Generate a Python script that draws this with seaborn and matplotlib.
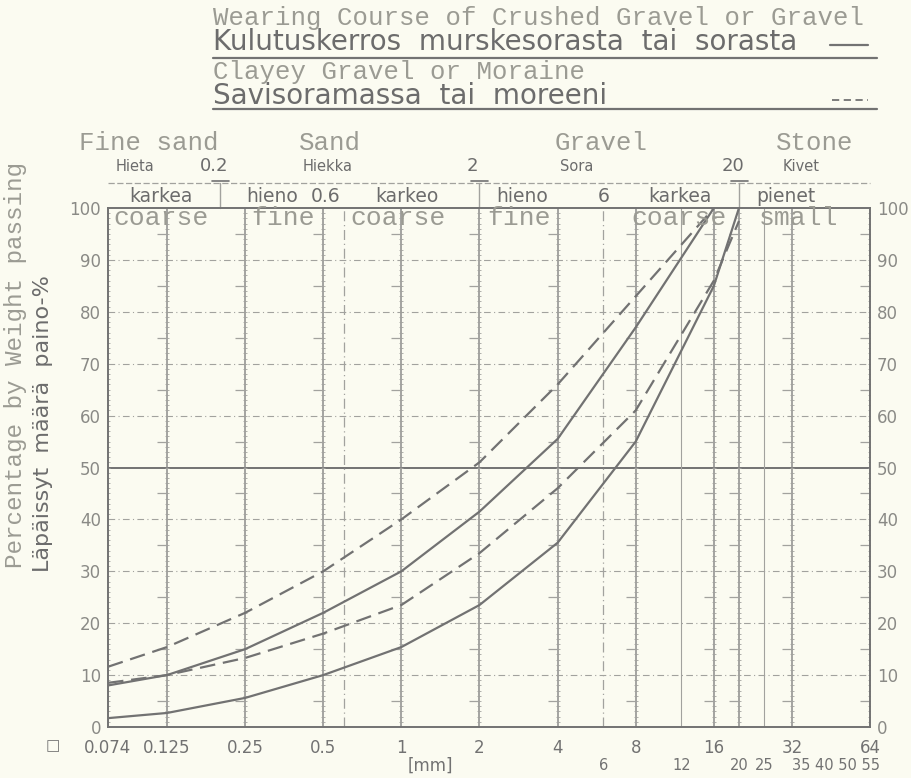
import matplotlib
matplotlib.use("Agg")
import matplotlib.pyplot as plt
import matplotlib.transforms as mtransforms
from matplotlib import font_manager
import numpy as np
import pandas as pd
import seaborn as sns

# Sieve sizes (mm) and percentage passing.
SIZES = [0.074, 0.125, 0.25, 0.5, 1, 2, 4, 8, 16, 20]
WEAR_UPPER = [8, 10, 15, 22, 30, 41.5, 55.5, 77, 100]          # ends at 16 mm
WEAR_LOWER = [1.7, 2.7, 5.6, 10, 15.4, 23.5, 35.5, 55, 85, 100]
CLAY_UPPER = [11.6, 15.4, 22, 30, 40, 51, 66, 83, 100]          # ends at 16 mm
CLAY_LOWER = [8.5, 10, 13.3, 18, 23.5, 33.5, 46, 61, 86, 97.5]

MAJOR_X = [0.074, 0.125, 0.25, 0.5, 1, 2, 4, 8, 16, 32, 64]
MAJOR_X_LABELS = ["0.074", "0.125", "0.25", "0.5", "1", "2", "4", "8", "16", "32", "64"]
MINOR_X = [6, 12, 20, 25, 35, 40, 45, 50, 55]
MINOR_X_LABELS = ["6", "12", "20", "25", "", "", "", "", ""]
Y_TICKS = list(range(0, 101, 10))

SOLID_GRID_X = [0.125, 0.25, 0.5, 1, 2, 4, 8, 12, 16, 20, 25, 32]
DASHDOT_GRID_X = [0.6, 6]
RULER_X = [0.074, 0.125, 0.25, 0.5, 1, 2, 4, 8, 16, 20, 32, 64]

PAPER = "#fbfbf1"
INK = "#727272"
GRID = "#a2a29e"
TYPE = "#9b9b93"
LETTER = "#6c6c6c"

avail = {f.name for f in font_manager.fontManager.ttflist}
MONO = "Liberation Mono" if "Liberation Mono" in avail else "DejaVu Sans Mono"
SANS = "DejaVu Sans"

sns.set_style("white")
plt.rcParams["font.family"] = [SANS]

fig = plt.figure(figsize=(9.12, 7.78), dpi=100, facecolor=PAPER)
ax = fig.add_axes([0.1184, 0.0656, 0.8356, 0.667])
ax.set_facecolor(PAPER)
ax.set_xscale("log")
ax.set_xlim(0.074, 64)
ax.set_ylim(0, 100)

# grid
for y in Y_TICKS[1:-1]:
    if y == 50:
        ax.axhline(y, color=INK, lw=1.4, zorder=1)
    else:
        ax.axhline(y, color=GRID, lw=0.8, ls=(0, (6, 3, 1, 3)), zorder=1)
for x in SOLID_GRID_X:
    thin = x in (12, 25)
    ax.axvline(x, color=GRID if thin else "#8c8c8a", lw=0.8 if thin else 1.1, zorder=1)
for x in DASHDOT_GRID_X:
    ax.axvline(x, color=GRID, lw=0.9, ls=(0, (8, 3, 1, 3)), zorder=1)

# ruler ticks along the main verticals
fine = np.arange(1, 100)
five = np.arange(5, 100, 10)
for x in RULER_X:
    ax.plot([x] * len(fine), fine, ls="none", marker="_", ms=3.5, mew=0.6, color=GRID, zorder=1)
    ax.plot([x] * len(five), five, ls="none", marker=0, ms=7, mew=0.9, color=GRID, zorder=1)

# grading curves
frames = []
for name, material, vals in [("wear_upper", "wear", WEAR_UPPER), ("wear_lower", "wear", WEAR_LOWER),
                             ("clay_upper", "clay", CLAY_UPPER), ("clay_lower", "clay", CLAY_LOWER)]:
    frames.append(pd.DataFrame({"size": SIZES[:len(vals)], "passing": vals,
                                "curve": name, "material": material}))
df = pd.concat(frames, ignore_index=True)
sns.lineplot(data=df, x="size", y="passing", units="curve", estimator=None, sort=False,
             style="material", dashes={"wear": "", "clay": (7, 3.5)},
             color=INK, linewidth=1.6, legend=False, ax=ax, zorder=3)

# axes styling
for s in ax.spines.values():
    s.set_color(INK)
    s.set_linewidth(1.4)
ax.set_xticks(MAJOR_X, MAJOR_X_LABELS)
ax.set_xticks(MINOR_X, MINOR_X_LABELS, minor=True)
ax.tick_params(axis="x", which="major", length=0, pad=9, labelsize=12, labelcolor=INK)
ax.tick_params(axis="x", which="minor", length=7, width=0.9, direction="inout", color=INK,
               pad=19, labelsize=10.5, labelcolor=INK)
ax.set_yticks(Y_TICKS, [str(v) for v in Y_TICKS])
ax.tick_params(axis="y", length=0, pad=5, labelsize=12, labelcolor="#8a8a86",
               labelleft=True, labelright=True)
ax.set_xlabel("")
ax.set_ylabel("")

trans = mtransforms.blended_transform_factory(ax.transData, fig.transFigure)
ax.text(47.5, -0.075, "35 40 50 55", transform=mtransforms.blended_transform_factory(ax.transData, ax.transAxes),
        ha="center", va="center", fontsize=10.5, color=INK)
fig.text(0.058, 0.042, "\u25a1", ha="center", va="center", fontsize=11, color=INK)
fig.text(0.472, 0.004, "[mm]", ha="center", va="bottom", fontsize=12, color=INK)

# titles / legend
fig.text(0.2336, 0.977, "Wearing Course of Crushed Gravel or Gravel", family=MONO,
         fontsize=18.5, color=TYPE, va="center")
fig.text(0.2336, 0.946, "Kulutuskerros  murskesorasta  tai  sorasta", family=SANS,
         fontsize=20, color=LETTER, va="center")
fig.text(0.2336, 0.9075, "Clayey Gravel or Moraine", family=MONO,
         fontsize=18.5, color=TYPE, va="center")
fig.text(0.2336, 0.876, "Savisoramassa  tai  moreeni", family=SANS,
         fontsize=20, color=LETTER, va="center")
fig.lines.append(plt.Line2D([0.91, 0.952], [0.942, 0.942], transform=fig.transFigure, color=INK, lw=1.6))
fig.lines.append(plt.Line2D([0.912, 0.952], [0.872, 0.872], transform=fig.transFigure, color=INK, lw=1.3,
                            ls=(0, (4, 2.5))))
for yy in (0.926, 0.860):
    fig.lines.append(plt.Line2D([0.2336, 0.962], [yy, yy], transform=fig.transFigure, color=INK, lw=1.6))

# y labels
fig.text(0.0175, 0.531, "Percentage by Weight passing", family=MONO, fontsize=17.5,
         color=TYPE, rotation=90, ha="center", va="center")
fig.text(0.047, 0.455, "Läpäissyt  määrä  paino-%", family=SANS, fontsize=16,
         color=LETTER, rotation=90, ha="center", va="center")

# fraction header above the plot
for x, txt in [(0.106, "Fine sand"), (0.53, "Sand"), (5.9, "Gravel"), (39, "Stone")]:
    ax.text(x, 0.816, txt, transform=trans, family=MONO, fontsize=18.5, color=TYPE, ha="center", va="center")
for x, txt, fs in [(0.094, "Hieta", 10.5), (0.19, "0.2", 13), (0.52, "Hiekka", 10.5), (1.88, "2", 13),
                   (4.73, "Sora", 10.5), (18.9, "20", 13), (34.6, "Kivet", 10.5)]:
    ax.text(x, 0.786, txt, transform=trans, fontsize=fs, color=LETTER, ha="center", va="center")
for x, txt in [(0.118, "karkea"), (0.318, "hieno"), (0.51, "0.6"), (1.05, "karkeo"),
               (2.93, "hieno"), (6, "6"), (11.8, "karkea"), (30.3, "pienet")]:
    ax.text(x, 0.748, txt, transform=trans, fontsize=13.5, color=LETTER, ha="center", va="center")
for x, txt in [(0.118, "coarse"), (0.35, "fine"), (0.97, "coarse"), (2.83, "fine"),
               (11.7, "coarse"), (33.8, "small")]:
    ax.text(x, 98.1, txt, family=MONO, fontsize=19, color=TYPE, ha="center", va="center", zorder=4)
ax.plot([0.074, 64], [0.765, 0.765], transform=trans, color=GRID, lw=0.9, ls=(0, (5, 2)), clip_on=False)
for x in (0.2, 2, 20):
    ax.plot([x, x], [0.733, 0.765], transform=trans, color=GRID, lw=1.0, clip_on=False)
    ax.plot([x * 0.93, x * 1.08], [0.767, 0.767], transform=trans, color=INK, lw=1.2, clip_on=False)

fig.savefig("out.png", dpi=100, facecolor=PAPER)
